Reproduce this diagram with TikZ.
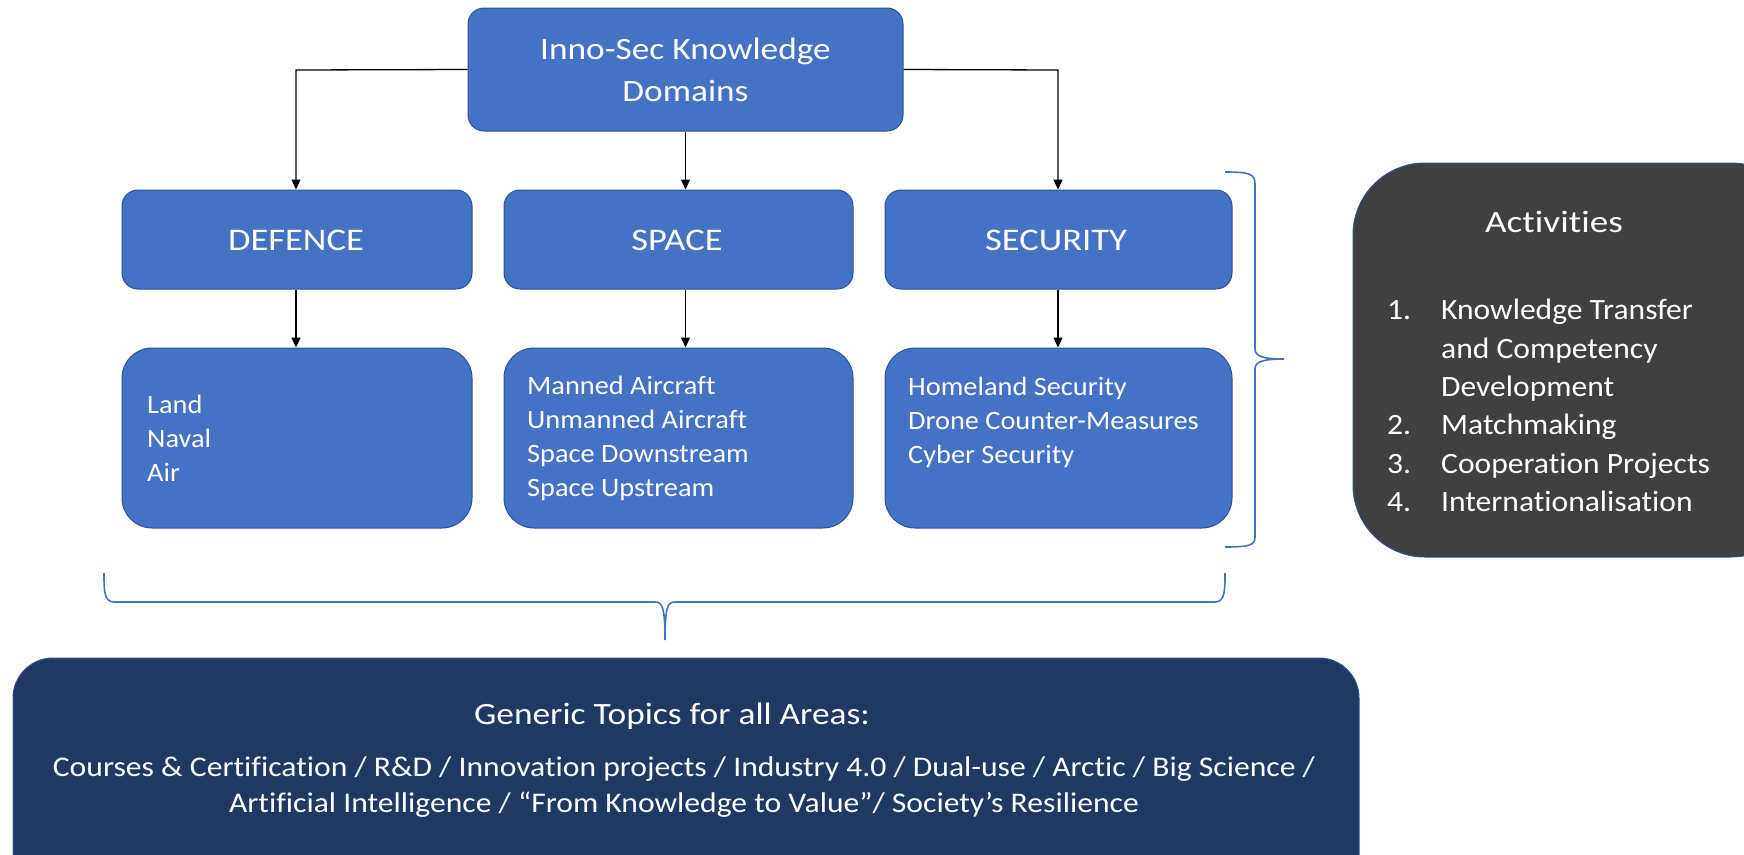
\documentclass[tikz,border=0pt]{standalone}
\usepackage{fontspec}
\defaultfontfeatures{Ligatures=NoCommon}
\setmainfont{Carlito}
\newfontfamily\fsTitle[FakeStretch=1.16]{Carlito}
\newfontfamily\fsTop[FakeStretch=1.14]{Carlito}
\newfontfamily\fsList[FakeStretch=1.07]{Carlito}
\newfontfamily\fsGen[FakeStretch=1.11]{Carlito}
\newfontfamily\fsAct[FakeStretch=1.2]{Carlito}
\usetikzlibrary{arrows.meta}
\definecolor{boxblue}{HTML}{4472C4}
\definecolor{boxedge}{HTML}{2F528F}
\definecolor{navyblue}{HTML}{203864}
\definecolor{actgray}{HTML}{404040}
\begin{document}
\begin{tikzpicture}[x=1pt,y=-1pt,
  bluebox/.style={draw=boxedge,line width=1pt,fill=boxblue,inner sep=0pt,rounded corners=#1},
  bluebox/.default=16pt,
  conn/.style={draw=black,line width=1.3pt,-{Triangle[length=10pt,width=9pt]}},
  bracestyle/.style={draw=boxblue,line width=1.6pt},
  wtext/.style={text=white,inner sep=0pt}]
\clip (0,0) rectangle (1744,854);
\useasboundingbox (0,0) rectangle (1744,854);

% top box
\node[bluebox, minimum width=435pt, minimum height=123pt] (top) at (685.5,69.5) {};
\node[wtext, align=center, font=\fsTop\fontsize{31}{42}\selectfont] (toptext) at (685.5,70) {Inno-Sec Knowledge\\Domains};

% domain boxes
\node[bluebox, minimum width=350pt, minimum height=99pt] (def) at (297,239.5) {};
\node[bluebox, minimum width=349pt, minimum height=99pt] (spa) at (678.5,239.5) {};
\node[bluebox, minimum width=347pt, minimum height=99pt] (sec) at (1058.5,239.5) {};
\node[wtext, font=\fsTitle\fontsize{31.5}{38}\selectfont] (deft) at (296,240.5) {DEFENCE};
\node[wtext, font=\fsTitle\fontsize{31.5}{38}\selectfont] (spat) at (677,240.5) {SPACE};
\node[wtext, font=\fsTitle\fontsize{31.5}{38}\selectfont] (sect) at (1056,240.5) {SECURITY};

% list boxes
\node[bluebox=30pt, minimum width=350pt, minimum height=180pt] (defl) at (297,438) {};
\node[bluebox=30pt, minimum width=349pt, minimum height=180pt] (spal) at (678.5,438) {};
\node[bluebox=30pt, minimum width=347pt, minimum height=180pt] (secl) at (1058.5,438) {};
\node[wtext, anchor=west, align=left, font=\fsList\fontsize{26.5}{34}\selectfont] (deflt) at (147,438) {Land\\Naval\\Air};
\node[wtext, anchor=west, align=left, font=\fsList\fontsize{26.5}{34}\selectfont] (spalt) at (527,438.5) {Manned Aircraft\\Unmanned Aircraft\\Space Downstream\\Space Upstream};
\node[wtext, anchor=west, align=left, font=\fsList\fontsize{26.5}{34}\selectfont] (seclt) at (908,422) {Homeland Security\\Drone Counter-Measures\\Cyber Security};

% connectors
\coordinate (a1) at (296,70);
\coordinate (a3) at (1058,70);
\draw[conn] (top.west) -- (a1) -- (a1 |- def.north);
\draw[conn] (top.east) -- (a3) -- (a3 |- sec.north);
\draw[conn] (top.south) -- (top.south |- spa.north);
\draw[conn] (a1 |- def.south) -- (a1 |- defl.north);
\draw[conn] (top.south |- spa.south) -- (top.south |- spal.north);
\draw[conn] (a3 |- sec.south) -- (a3 |- secl.north);

% right brace
\draw[bracestyle] (1225,172) .. controls (1250,172) and (1255,174) .. (1255,184) -- (1255,349)
  .. controls (1255,356) and (1262,359) .. (1284,359)
  .. controls (1262,359) and (1255,362) .. (1255,369) -- (1255,537)
  .. controls (1255,545) and (1250,547) .. (1225,547);

% bottom brace
\draw[bracestyle] (104,573) .. controls (104,590) and (104,602) .. (114,602) -- (655,602)
  .. controls (662,602) and (665,606) .. (665,640)
  .. controls (665,606) and (668,602) .. (675,602) -- (1215,602)
  .. controls (1225,602) and (1225,590) .. (1225,573);

% activities box
\node[draw=boxedge, line width=1pt, fill=actgray, rounded corners=72pt, minimum width=450pt, minimum height=394pt, inner sep=0pt] (act) at (1578,360) {};
\node[wtext, font=\fsAct\fontsize{31}{38}\selectfont] (actt) at (1554,222) {Activities};
\node[wtext, anchor=west, font=\fsList\fontsize{29.5}{38.4}\selectfont] (actl) at (1387,408) {%
  \begin{tabular}{@{}p{54pt}@{}l@{}}
  1. & Knowledge Transfer\\
     & and Competency\\
     & Development\\
  2. & Matchmaking\\
  3. & Cooperation Projects\\
  4. & Internationalisation
  \end{tabular}};

% generic topics box
\node[draw=boxedge, line width=1pt, fill=navyblue, rounded corners=40pt, minimum width=1346pt, minimum height=240pt, inner sep=0pt] (gen) at (686,778) {};
\node[wtext, font=\fsTop\fontsize{31}{38}\selectfont] (gent) at (672,716) {Generic Topics for all Areas:};
\node[wtext, align=center, font=\fsGen\fontsize{28.5}{36}\selectfont] (genl) at (684,787) {Courses \& Certification / R\&D / Innovation projects / Industry 4.0 / Dual-use / Arctic / Big Science /\\Artificial Intelligence / “From Knowledge to Value”/ Society’s Resilience};
\end{tikzpicture}
\end{document}
